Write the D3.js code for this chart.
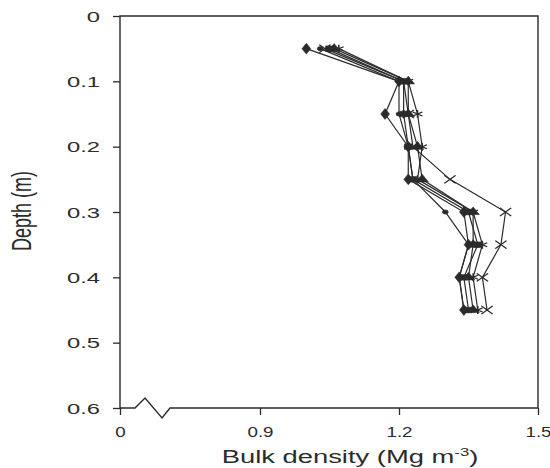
<!DOCTYPE html>
<html>
<head>
<meta charset="utf-8">
<script src="https://cdn.jsdelivr.net/npm/d3@7"></script>
<style>
  body { margin: 0; background: #fff; }
  svg { display: block; }
</style>
</head>
<body>
<svg id="chart" width="550" height="468"></svg>
<script>
// depth of each sample (m)
const depths = [0.05, 0.10, 0.15, 0.20, 0.25, 0.30, 0.35, 0.40, 0.45];

// bulk density profiles (Mg m-3), one per marker type
const bdDiamond  = [1.00, 1.20, 1.17, 1.22, 1.22, 1.34, 1.35, 1.33, 1.34];
const bdSquare   = [1.05, 1.21, 1.21, 1.22, 1.23, 1.35, 1.37, 1.34, 1.35];
const bdTriangle = [1.06, 1.22, 1.22, 1.24, 1.25, 1.36, 1.36, 1.35, 1.36];
const bdCross    = [1.04, 1.21, 1.22, 1.23, 1.31, 1.43, 1.42, 1.38, 1.39];
const bdStar     = [1.07, 1.22, 1.24, 1.25, 1.24, 1.36, 1.38, 1.36, 1.37];
const bdCircle   = [1.03, 1.20, 1.20, 1.22, 1.23, 1.30, 1.35, 1.33, 1.34];

const xTickValues = [0, 0.9, 1.2, 1.5];
const yTickValues = [0, 0.1, 0.2, 0.3, 0.4, 0.5, 0.6];

const svg = d3.select("#chart");
const ink = "#2b2b2b";
const font = "'Liberation Sans', Arial, sans-serif";

// x axis is broken between 0 and 0.9
const x = d3.scaleLinear().domain([0, 0.9, 1.5]).range([120, 260, 538]);
const y = d3.scaleLinear().domain([0, 0.6]).range([16, 408]);

// the figure looks stretched sideways, so text is widened too
function stretch(sel, k) {
    sel.each(function () {
        const w = this.getComputedTextLength();
        d3.select(this).attr("textLength", w * k).attr("lengthAdjust", "spacingAndGlyphs");
    });
}

//////// y axis
const yAxis = d3.axisLeft(y)
    .tickValues(yTickValues)
    .tickSize(7)
    .tickPadding(13)
    .tickFormat(d => d === 0 ? "0" : d3.format(".1f")(d));
const gy = svg.append("g").attr("transform", "translate(120,0)").call(yAxis);
gy.select(".domain").remove();
gy.selectAll("line").attr("stroke", ink).attr("stroke-width", 1.3);
gy.selectAll("text")
    .style("font-family", font)
    .style("font-size", "14px")
    .attr("fill", ink)
    .attr("dy", "0.36em")
    .call(stretch, 1.7);

//////// x axis
const xAxis = d3.axisBottom(x)
    .tickValues(xTickValues)
    .tickSize(7)
    .tickPadding(11)
    .tickFormat(d => d === 0 ? "0" : d3.format(".1f")(d));
const gx = svg.append("g").attr("transform", "translate(0,408)").call(xAxis);
gx.select(".domain").remove();
gx.selectAll("line").attr("stroke", ink).attr("stroke-width", 1.3);
gx.selectAll("text")
    .style("font-family", font)
    .style("font-size", "15px")
    .attr("fill", ink)
    .call(stretch, 1.25);

//////// frame with the axis break symbol
svg.append("path")
    .attr("d", `M${x(0)},${y(0.6)}V${y(0)}H${x(1.5)}V${y(0.6)}H170L162,418L145,398L135,${y(0.6)}Z`)
    .attr("fill", "none")
    .attr("stroke", ink)
    .attr("stroke-width", 1.4)
    .attr("stroke-linejoin", "miter");

//////// axis titles
const xTitle = svg.append("text")
    .attr("x", 350)
    .attr("y", 463)
    .attr("text-anchor", "middle")
    .style("font-family", font)
    .style("font-size", "18px")
    .attr("fill", ink);
xTitle.append("tspan").text("Bulk density (Mg m");
xTitle.append("tspan").attr("dy", -7).style("font-size", "11px").text("-3");
xTitle.append("tspan").attr("dy", 7).text(")");
xTitle.call(stretch, 1.52);

svg.append("text")
    .attr("transform", "translate(31,211) scale(1.5,1) rotate(-90)")
    .attr("text-anchor", "middle")
    .style("font-family", font)
    .style("font-size", "18px")
    .attr("fill", ink)
    .text("Depth (m)");

//////// profiles
const series = [
    { name: "diamond", values: bdDiamond, symbol: d3.symbolDiamond, size: 34, filled: true },
    { name: "square", values: bdSquare, symbol: d3.symbolSquare, size: 30, filled: true },
    { name: "triangle", values: bdTriangle, symbol: d3.symbolTriangle, size: 34, filled: true },
    { name: "cross", values: bdCross, symbol: d3.symbolTimes || d3.symbolX, size: 44, filled: false },
    { name: "star", values: bdStar, symbol: d3.symbolAsterisk || d3.symbolCross, size: 44, filled: false },
    { name: "circle", values: bdCircle, symbol: d3.symbolCircle, size: 14, filled: true }
];

const line = d3.line()
    .x(d => x(d.v))
    .y(d => y(d.depth));

const profile = svg.selectAll(".profile")
    .data(series)
    .enter()
    .append("g")
    .attr("class", d => `profile ${d.name}`);

profile.append("path")
    .attr("fill", "none")
    .attr("stroke", ink)
    .attr("stroke-width", 1.2)
    .attr("d", s => line(s.values.map((v, i) => ({ v: v, depth: depths[i] }))));

profile.each(function (s) {
    const sym = d3.symbol().type(s.symbol).size(s.size);
    d3.select(this).selectAll(".marker")
        .data(s.values.map((v, i) => ({ v: v, depth: depths[i] })))
        .enter()
        .append("path")
        .attr("class", "marker")
        .attr("transform", d => `translate(${x(d.v)},${y(d.depth)}) scale(1.4,1)`)
        .attr("d", sym)
        .attr("fill", s.filled ? ink : "none")
        .attr("stroke", ink)
        .attr("stroke-width", s.filled ? 0.5 : 1.1);
});
</script>
</body>
</html>
